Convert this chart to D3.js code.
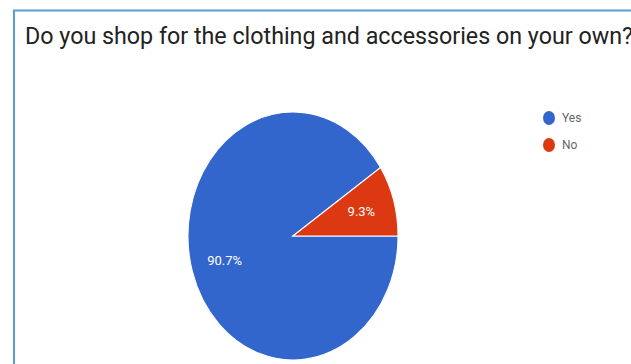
<!DOCTYPE html>
<html>
<head>
<meta charset="utf-8">
<script src="https://cdn.jsdelivr.net/npm/d3@7"></script>
<style>
  body { margin: 0; background: #fff; }
  svg { display: block; }
</style>
</head>
<body>
<svg id="pie-chart"></svg>
<script>
const titleText = "Do you shop for the clothing and accessories on your own?";
const answers = ["Yes", "No"];
const shares = [90.7, 9.3];
const colors = ["#3366cc", "#dc3912"];

const dimensions = { width: 631, height: 364 };
const center = { x: 293, y: 236 };
const rx = 105, ry = 124;

const data = answers.map((a, i) => ({ answer: a, value: shares[i] }));

const svg = d3.select("#pie-chart")
    .attr("width", dimensions.width)
    .attr("height", dimensions.height);

// frame (only top and left edges show in the crop)
svg.append("path")
    .attr("d", `M14,${dimensions.height} L14,10.5 L${dimensions.width},10.5`)
    .attr("fill", "none")
    .attr("stroke", "#5b9bd5")
    .attr("stroke-width", 2);

svg.append("text")
    .attr("x", 25)
    .attr("y", 44)
    .attr("font-family", "Roboto, Arial, sans-serif")
    .attr("font-size", 23)
    .attr("fill", "#222")
    .attr("textLength", 608)
    .attr("lengthAdjust", "spacingAndGlyphs")
    .text(titleText);

const colorScale = d3.scaleOrdinal().domain(answers).range(colors);

const pie = d3.pie()
    .value(d => d.value)
    .sort(null)
    .startAngle(Math.PI / 2)
    .endAngle(Math.PI / 2 + 2 * Math.PI);

const arcs = pie(data);
const arc = d3.arc().innerRadius(0).outerRadius(rx);
const labelArc = d3.arc().innerRadius(rx * 0.68).outerRadius(rx * 0.68);

const pieGroup = svg.append("g")
    .attr("transform", `translate(${center.x},${center.y}) scale(1,${ry / rx})`);

pieGroup.selectAll("path")
    .data(arcs)
    .enter()
    .append("path")
    .attr("d", arc)
    .attr("fill", d => colorScale(d.data.answer))
    .attr("stroke", "#fff")
    .attr("stroke-width", 1);

svg.selectAll(".slice-label")
    .data(arcs)
    .enter()
    .append("text")
    .attr("class", "slice-label")
    .attr("x", d => center.x + labelArc.centroid(d)[0])
    .attr("y", d => center.y + labelArc.centroid(d)[1] * ry / rx)
    .attr("dy", "0.35em")
    .attr("text-anchor", "middle")
    .attr("font-family", "Roboto, Arial, sans-serif")
    .attr("font-size", 13)
    .attr("fill", "#fff")
    .text(d => d.data.value.toFixed(1) + "%");

const legend = svg.selectAll(".legend")
    .data(answers)
    .enter()
    .append("g")
    .attr("class", "legend")
    .attr("transform", (d, i) => `translate(549, ${118 + i * 27})`);

legend.append("ellipse")
    .attr("rx", 6)
    .attr("ry", 7)
    .attr("fill", d => colorScale(d));

legend.append("text")
    .attr("x", 13)
    .attr("dy", "0.35em")
    .attr("font-family", "Roboto, Arial, sans-serif")
    .attr("font-size", 12)
    .attr("fill", "#666")
    .text(d => d);
</script>
</body>
</html>
